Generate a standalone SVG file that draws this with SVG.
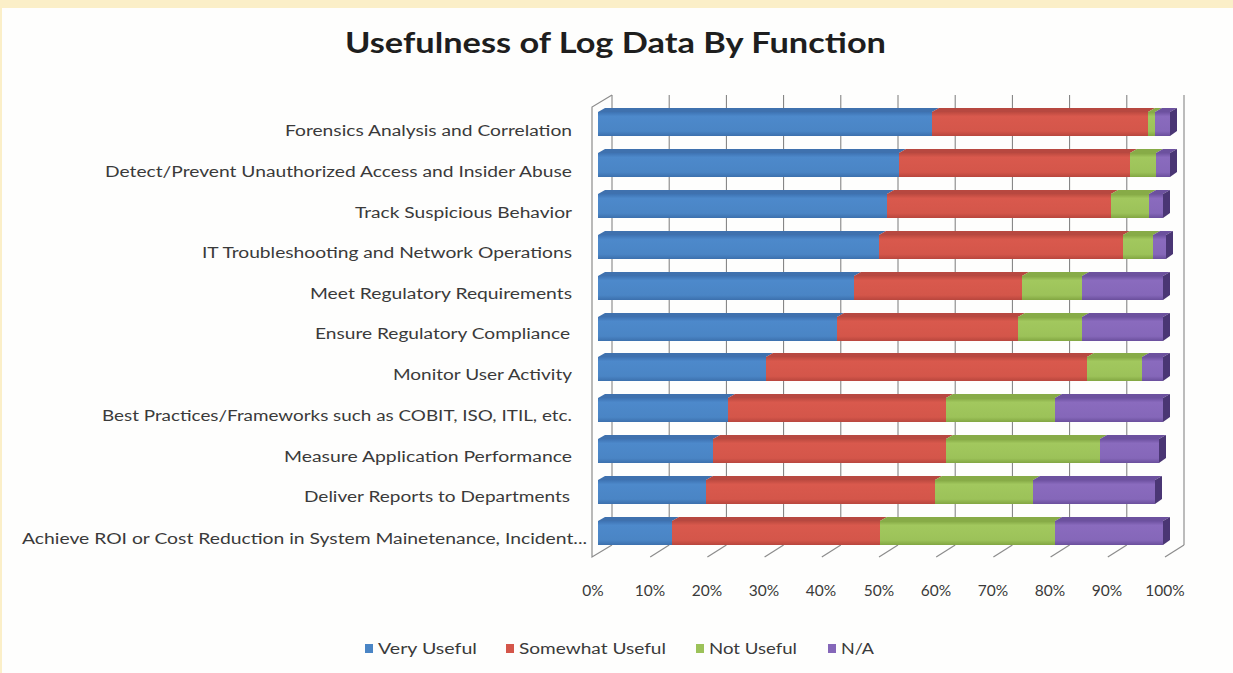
<svg xmlns="http://www.w3.org/2000/svg" width="1233" height="673" viewBox="0 0 1233 673">
  <defs>
    <linearGradient id="gBlue" x1="0" y1="0" x2="0" y2="1">
      <stop offset="0" stop-color="#3E73B3"/>
      <stop offset="0.18" stop-color="#4D89CB"/>
      <stop offset="0.8" stop-color="#4A85C5"/>
      <stop offset="1" stop-color="#3C70AD"/>
    </linearGradient>
    <linearGradient id="gRed" x1="0" y1="0" x2="0" y2="1">
      <stop offset="0" stop-color="#BC4A40"/>
      <stop offset="0.18" stop-color="#D9594D"/>
      <stop offset="0.8" stop-color="#D4564A"/>
      <stop offset="1" stop-color="#B8463D"/>
    </linearGradient>
    <linearGradient id="gGreen" x1="0" y1="0" x2="0" y2="1">
      <stop offset="0" stop-color="#84A844"/>
      <stop offset="0.18" stop-color="#A2C85E"/>
      <stop offset="0.8" stop-color="#9CC259"/>
      <stop offset="1" stop-color="#82A642"/>
    </linearGradient>
    <linearGradient id="gPurple" x1="0" y1="0" x2="0" y2="1">
      <stop offset="0" stop-color="#6D51A0"/>
      <stop offset="0.18" stop-color="#8A6BBE"/>
      <stop offset="0.8" stop-color="#8567B9"/>
      <stop offset="1" stop-color="#6A4F9C"/>
    </linearGradient>
    <style>
      .lbl { font-family: Lato, "Open Sans", "Liberation Sans", sans-serif; font-size: 15.5px; fill: #3A3A3A; }
      .cat { text-anchor: end; }
      .tick { text-anchor: middle; }
      .title { font-family: Lato, "Open Sans", "Liberation Sans", sans-serif; font-size: 28px; font-weight: bold; fill: #1E1E1E; }
      .grid { stroke: #7A7A7A; stroke-width: 1; fill: none; }
      .wall { stroke: #8C8C8C; stroke-width: 1.2; fill: none; }
      .bF { fill: url(#gBlue); }   .bT { fill: #3F71AE; }
      .rF { fill: url(#gRed); }    .rT { fill: #B74840; }
      .gF { fill: url(#gGreen); }  .gT { fill: #87AB47; }
      .pF { fill: url(#gPurple); } .pT { fill: #6C519E; } .pS { fill: #4A3674; }
    </style>
  </defs>

  <!-- page background with cream frame -->
  <rect x="0" y="0" width="1233" height="673" fill="#FBEFC8"/>
  <rect x="2" y="8" width="1231" height="665" fill="#FEFEFD"/>

  <!-- title -->
  <text class="title" x="345" y="53" textLength="541" lengthAdjust="spacingAndGlyphs">Usefulness of Log Data By Function</text>

  <!-- chart frame: back gridlines, walls, floor depth lines -->
  <g id="axes">
    <g class="grid">
      <line x1="612" y1="95" x2="612" y2="545"/>
      <line x1="669.2" y1="95" x2="669.2" y2="545"/>
      <line x1="726.4" y1="95" x2="726.4" y2="545"/>
      <line x1="783.6" y1="95" x2="783.6" y2="545"/>
      <line x1="840.8" y1="95" x2="840.8" y2="545"/>
      <line x1="898" y1="95" x2="898" y2="545"/>
      <line x1="955.2" y1="95" x2="955.2" y2="545"/>
      <line x1="1012.4" y1="95" x2="1012.4" y2="545"/>
      <line x1="1069.6" y1="95" x2="1069.6" y2="545"/>
      <line x1="1126.8" y1="95" x2="1126.8" y2="545"/>
      <line x1="1184" y1="95" x2="1184" y2="545"/>
    </g>
    <g class="wall">
      <polyline points="612,95 592,107 592,557 612,545"/>
      <line x1="650.2" y1="557" x2="669.2" y2="545"/>
      <line x1="707.4" y1="557" x2="726.4" y2="545"/>
      <line x1="764.6" y1="557" x2="783.6" y2="545"/>
      <line x1="821.8" y1="557" x2="840.8" y2="545"/>
      <line x1="879" y1="557" x2="898" y2="545"/>
      <line x1="936.2" y1="557" x2="955.2" y2="545"/>
      <line x1="993.4" y1="557" x2="1012.4" y2="545"/>
      <line x1="1050.6" y1="557" x2="1069.6" y2="545"/>
      <line x1="1107.8" y1="557" x2="1126.8" y2="545"/>
      <line x1="1165" y1="557" x2="1184" y2="545"/>
    </g>
  </g>

  <!-- stacked 3D bars: top face, front face per segment, end face on last segment -->
  <g id="bars">
    <g id="bar-forensics">
      <polygon class="bT" points="598,112 605,108 939,108 932,112"/><rect class="bF" x="598" y="112" width="334" height="24"/>
      <polygon class="rT" points="932,112 939,108 1155,108 1148,112"/><rect class="rF" x="932" y="112" width="216" height="24"/>
      <polygon class="gT" points="1148,112 1155,108 1162,108 1155,112"/><rect class="gF" x="1148" y="112" width="7" height="24"/>
      <polygon class="pT" points="1155,112 1162,108 1177,108 1170,112"/><rect class="pF" x="1155" y="112" width="15" height="24"/>
      <polygon class="pS" points="1170,112 1177,108 1177,131 1170,136"/>
    </g>
    <g id="bar-detect">
      <polygon class="bT" points="598,153 605,149 906,149 899,153"/><rect class="bF" x="598" y="153" width="301" height="24"/>
      <polygon class="rT" points="899,153 906,149 1137,149 1130,153"/><rect class="rF" x="899" y="153" width="231" height="24"/>
      <polygon class="gT" points="1130,153 1137,149 1163,149 1156,153"/><rect class="gF" x="1130" y="153" width="26" height="24"/>
      <polygon class="pT" points="1156,153 1163,149 1177,149 1170,153"/><rect class="pF" x="1156" y="153" width="14" height="24"/>
      <polygon class="pS" points="1170,153 1177,149 1177,172 1170,177"/>
    </g>
    <g id="bar-track">
      <polygon class="bT" points="598,194 605,190 894,190 887,194"/><rect class="bF" x="598" y="194" width="289" height="24"/>
      <polygon class="rT" points="887,194 894,190 1118,190 1111,194"/><rect class="rF" x="887" y="194" width="224" height="24"/>
      <polygon class="gT" points="1111,194 1118,190 1156,190 1149,194"/><rect class="gF" x="1111" y="194" width="38" height="24"/>
      <polygon class="pT" points="1149,194 1156,190 1170,190 1163,194"/><rect class="pF" x="1149" y="194" width="14" height="24"/>
      <polygon class="pS" points="1163,194 1170,190 1170,213 1163,218"/>
    </g>
    <g id="bar-it">
      <polygon class="bT" points="598,235 605,231 886,231 879,235"/><rect class="bF" x="598" y="235" width="281" height="24"/>
      <polygon class="rT" points="879,235 886,231 1130,231 1123,235"/><rect class="rF" x="879" y="235" width="244" height="24"/>
      <polygon class="gT" points="1123,235 1130,231 1160,231 1153,235"/><rect class="gF" x="1123" y="235" width="30" height="24"/>
      <polygon class="pT" points="1153,235 1160,231 1173,231 1166,235"/><rect class="pF" x="1153" y="235" width="13" height="24"/>
      <polygon class="pS" points="1166,235 1173,231 1173,254 1166,259"/>
    </g>
    <g id="bar-meet">
      <polygon class="bT" points="598,276 605,272 861,272 854,276"/><rect class="bF" x="598" y="276" width="256" height="24"/>
      <polygon class="rT" points="854,276 861,272 1029,272 1022,276"/><rect class="rF" x="854" y="276" width="168" height="24"/>
      <polygon class="gT" points="1022,276 1029,272 1089,272 1082,276"/><rect class="gF" x="1022" y="276" width="60" height="24"/>
      <polygon class="pT" points="1082,276 1089,272 1170,272 1163,276"/><rect class="pF" x="1082" y="276" width="81" height="24"/>
      <polygon class="pS" points="1163,276 1170,272 1170,295 1163,300"/>
    </g>
    <g id="bar-ensure">
      <polygon class="bT" points="598,317 605,313 844,313 837,317"/><rect class="bF" x="598" y="317" width="239" height="24"/>
      <polygon class="rT" points="837,317 844,313 1025,313 1018,317"/><rect class="rF" x="837" y="317" width="181" height="24"/>
      <polygon class="gT" points="1018,317 1025,313 1089,313 1082,317"/><rect class="gF" x="1018" y="317" width="64" height="24"/>
      <polygon class="pT" points="1082,317 1089,313 1170,313 1163,317"/><rect class="pF" x="1082" y="317" width="81" height="24"/>
      <polygon class="pS" points="1163,317 1170,313 1170,336 1163,341"/>
    </g>
    <g id="bar-monitor">
      <polygon class="bT" points="598,357 605,353 773,353 766,357"/><rect class="bF" x="598" y="357" width="168" height="24"/>
      <polygon class="rT" points="766,357 773,353 1094,353 1087,357"/><rect class="rF" x="766" y="357" width="321" height="24"/>
      <polygon class="gT" points="1087,357 1094,353 1149,353 1142,357"/><rect class="gF" x="1087" y="357" width="55" height="24"/>
      <polygon class="pT" points="1142,357 1149,353 1170,353 1163,357"/><rect class="pF" x="1142" y="357" width="21" height="24"/>
      <polygon class="pS" points="1163,357 1170,353 1170,376 1163,381"/>
    </g>
    <g id="bar-best">
      <polygon class="bT" points="598,398 605,394 735,394 728,398"/><rect class="bF" x="598" y="398" width="130" height="24"/>
      <polygon class="rT" points="728,398 735,394 953,394 946,398"/><rect class="rF" x="728" y="398" width="218" height="24"/>
      <polygon class="gT" points="946,398 953,394 1062,394 1055,398"/><rect class="gF" x="946" y="398" width="109" height="24"/>
      <polygon class="pT" points="1055,398 1062,394 1170,394 1163,398"/><rect class="pF" x="1055" y="398" width="108" height="24"/>
      <polygon class="pS" points="1163,398 1170,394 1170,417 1163,422"/>
    </g>
    <g id="bar-measure">
      <polygon class="bT" points="598,439 605,435 720,435 713,439"/><rect class="bF" x="598" y="439" width="115" height="24"/>
      <polygon class="rT" points="713,439 720,435 953,435 946,439"/><rect class="rF" x="713" y="439" width="233" height="24"/>
      <polygon class="gT" points="946,439 953,435 1107,435 1100,439"/><rect class="gF" x="946" y="439" width="154" height="24"/>
      <polygon class="pT" points="1100,439 1107,435 1166,435 1159,439"/><rect class="pF" x="1100" y="439" width="59" height="24"/>
      <polygon class="pS" points="1159,439 1166,435 1166,458 1159,463"/>
    </g>
    <g id="bar-deliver">
      <polygon class="bT" points="598,480 605,476 713,476 706,480"/><rect class="bF" x="598" y="480" width="108" height="24"/>
      <polygon class="rT" points="706,480 713,476 942,476 935,480"/><rect class="rF" x="706" y="480" width="229" height="24"/>
      <polygon class="gT" points="935,480 942,476 1040,476 1033,480"/><rect class="gF" x="935" y="480" width="98" height="24"/>
      <polygon class="pT" points="1033,480 1040,476 1162,476 1155,480"/><rect class="pF" x="1033" y="480" width="122" height="24"/>
      <polygon class="pS" points="1155,480 1162,476 1162,499 1155,504"/>
    </g>
    <g id="bar-achieve">
      <polygon class="bT" points="598,521 605,517 679,517 672,521"/><rect class="bF" x="598" y="521" width="74" height="24"/>
      <polygon class="rT" points="672,521 679,517 887,517 880,521"/><rect class="rF" x="672" y="521" width="208" height="24"/>
      <polygon class="gT" points="880,521 887,517 1062,517 1055,521"/><rect class="gF" x="880" y="521" width="175" height="24"/>
      <polygon class="pT" points="1055,521 1062,517 1170,517 1163,521"/><rect class="pF" x="1055" y="521" width="108" height="24"/>
      <polygon class="pS" points="1163,521 1170,517 1170,540 1163,545"/>
    </g>
  </g>

  <!-- category labels -->
  <g id="categories" class="lbl cat">
    <text x="572" y="136" textLength="287" lengthAdjust="spacingAndGlyphs">Forensics Analysis and  Correlation</text>
    <text x="572" y="177" textLength="467" lengthAdjust="spacingAndGlyphs">Detect/Prevent Unauthorized Access and Insider Abuse</text>
    <text x="572" y="218" textLength="217" lengthAdjust="spacingAndGlyphs">Track Suspicious Behavior</text>
    <text x="572" y="258" textLength="370" lengthAdjust="spacingAndGlyphs">IT Troubleshooting and Network Operations</text>
    <text x="572" y="299" textLength="262" lengthAdjust="spacingAndGlyphs">Meet Regulatory  Requirements</text>
    <text x="570" y="339" textLength="255" lengthAdjust="spacingAndGlyphs">Ensure Regulatory Compliance</text>
    <text x="572" y="380" textLength="179" lengthAdjust="spacingAndGlyphs">Monitor User Activity</text>
    <text x="572" y="421" textLength="470" lengthAdjust="spacingAndGlyphs">Best Practices/Frameworks such as COBIT, ISO, ITIL, etc.</text>
    <text x="572" y="462" textLength="288" lengthAdjust="spacingAndGlyphs">Measure Application Performance</text>
    <text x="570" y="502" textLength="266" lengthAdjust="spacingAndGlyphs">Deliver Reports to Departments</text>
    <text x="587" y="544" textLength="565" lengthAdjust="spacingAndGlyphs">Achieve ROI or Cost Reduction in System Mainetenance, Incident...</text>
  </g>

  <!-- value axis labels -->
  <g id="value-axis" class="lbl tick">
    <text x="593" y="596">0%</text>
    <text x="650" y="596">10%</text>
    <text x="707" y="596">20%</text>
    <text x="764" y="596">30%</text>
    <text x="821" y="596">40%</text>
    <text x="879" y="596">50%</text>
    <text x="936" y="596">60%</text>
    <text x="993" y="596">70%</text>
    <text x="1050" y="596">80%</text>
    <text x="1107" y="596">90%</text>
    <text x="1165" y="596">100%</text>
  </g>

  <!-- legend -->
  <g id="legend" class="lbl">
    <rect x="365" y="644" width="8" height="9" fill="#4A85C5"/>
    <text x="378" y="654" textLength="99" lengthAdjust="spacingAndGlyphs">Very Useful</text>
    <rect x="506" y="644" width="8" height="9" fill="#D4564A"/>
    <text x="519" y="654" textLength="147" lengthAdjust="spacingAndGlyphs">Somewhat Useful</text>
    <rect x="696" y="644" width="8" height="9" fill="#9CC259"/>
    <text x="709" y="654" textLength="88" lengthAdjust="spacingAndGlyphs">Not Useful</text>
    <rect x="828" y="644" width="8" height="9" fill="#8567B9"/>
    <text x="841" y="654" textLength="33" lengthAdjust="spacingAndGlyphs">N/A</text>
  </g>
</svg>
